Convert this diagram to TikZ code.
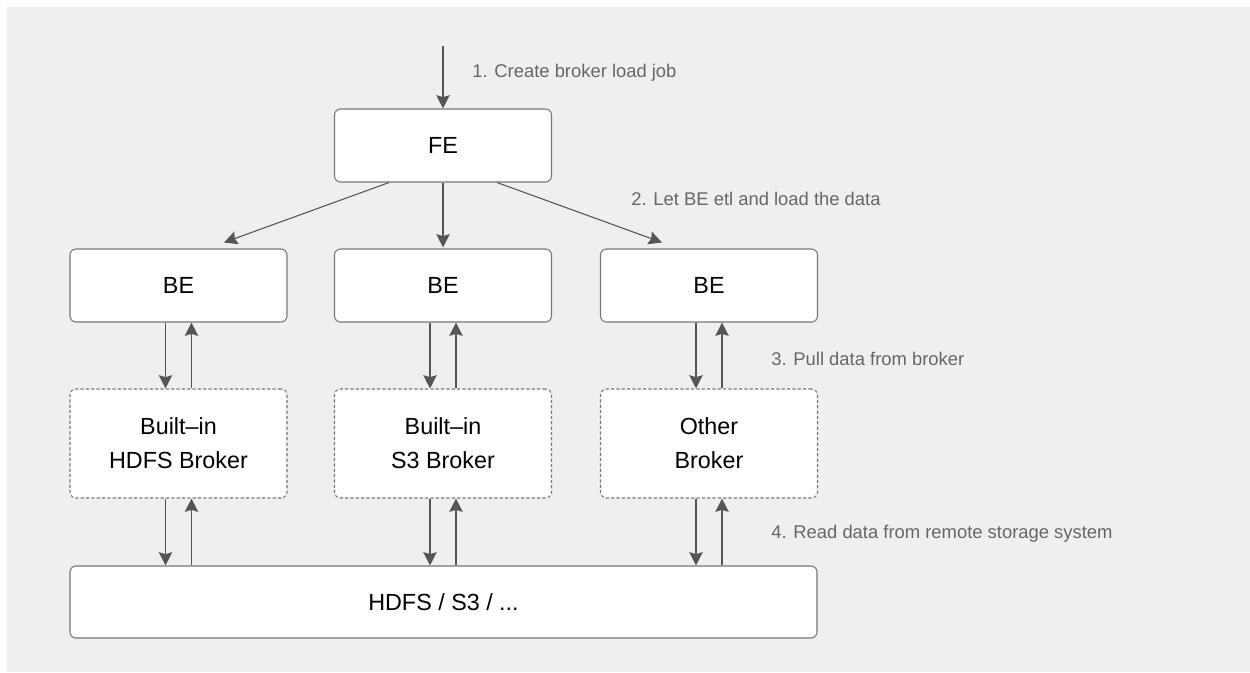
\documentclass[tikz,border=0pt]{standalone}
\usepackage{fontspec}
\setmainfont{Liberation Sans}
\usetikzlibrary{arrows.meta,calc}
\definecolor{bgc}{HTML}{EFEFEF}
\definecolor{edge}{HTML}{777777}
\definecolor{arr}{HTML}{555555}
\definecolor{lbl}{HTML}{666666}
\tikzset{
  box/.style={draw=edge, line width=0.8pt, fill=white, rounded corners=4.5pt,
    minimum width=162.75pt, minimum height=54.75pt, inner sep=0pt,
    font=\fontsize{17.5}{25.5}\selectfont, align=center},
  brokerbox/.style={box, dash pattern=on 2.4pt off 1.6pt, minimum height=81.75pt},
  flow/.style={draw=arr, line width=0.8pt,
    -{Stealth[length=10pt,width=10pt,inset=1.5pt]}},
  note/.style={anchor=west, text=lbl, inner sep=0pt,
    font=\fontsize{13.8}{16}\selectfont}
}
\begin{document}
\begin{tikzpicture}[x=0.75pt,y=-0.75pt]
  % canvas
  \useasboundingbox (0,0) rectangle (1250,672);
  \fill[bgc] (7,7) rectangle (1250,672);

  % nodes
  \node[box] (FE)  at (443,145.5) {FE};
  \node[box] (BE1) at (178.5,285.5) {BE};
  \node[box] (BE2) at (443,285.5) {BE};
  \node[box] (BE3) at (709,285.5) {BE};
  \node[brokerbox] (BR1) at (178.5,443.5) {Built\textendash in\\HDFS Broker};
  \node[brokerbox] (BR2) at (443,443.5) {Built\textendash in\\S3 Broker};
  \node[brokerbox] (BR3) at (709,443.5) {Other\\Broker};
  \node[box, minimum width=560.25pt, minimum height=54pt] (ST) at (443.5,602) {HDFS / S3 / ...};

  % job submission
  \coordinate (client) at (443,46);
  \draw[flow] (client) -- (FE.north);
  \node[note] (n1) at (472,73) {1. Create broker load job};

  % FE dispatches to the BEs
  \draw[flow] ($(FE.south)+(-54,0)$) -- ($(BE1.north)+(45.5,-6)$);
  \draw[flow] (FE.south) -- ($(BE2.north)+(0,-1)$);
  \draw[flow] ($(FE.south)+(54,0)$) -- ($(BE3.north)+(-47,-6)$);
  \node[note] (n2) at (631,199) {2. Let BE etl and load the data};

  % BE <-> broker
  \foreach \b/\k in {BE1/BR1,BE2/BR2,BE3/BR3}{
    \draw[flow] ($(\b.south)+(-13,0)$) -- ($(\k.north)+(-13,0)$);
    \draw[flow] ($(\k.north)+(13,0)$) -- ($(\b.south)+(13,0)$);
  }
  \node[note] (n3) at (771,359) {3. Pull data from broker};

  % broker <-> storage
  \foreach \k in {BR1,BR2,BR3}{
    \draw[flow] ($(\k.south)+(-13,0)$) -- ($(\k.south|-ST.north)+(-13,0)$);
    \draw[flow] ($(\k.south|-ST.north)+(13,0)$) -- ($(\k.south)+(13,0)$);
  }
  \node[note] (n4) at (771,534) {4. Read data from remote storage system};
\end{tikzpicture}
\end{document}
